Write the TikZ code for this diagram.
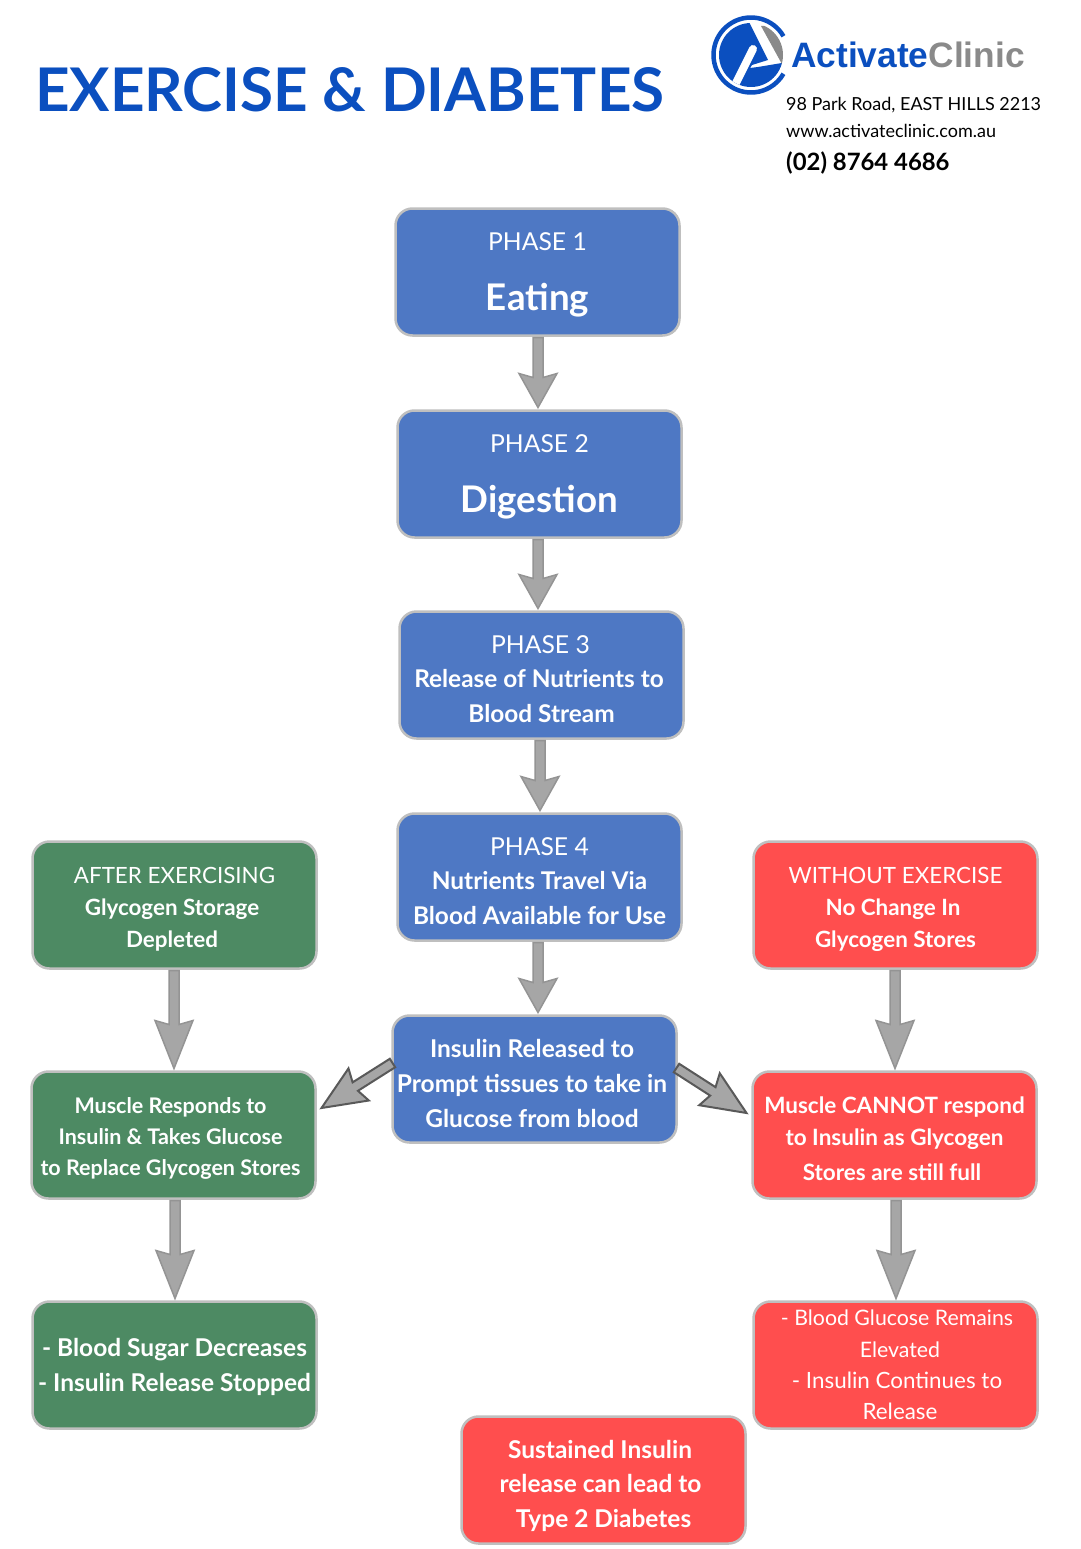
\documentclass[tikz,border=0pt]{standalone}
\usepackage{fontspec}
\usetikzlibrary{calc}
\setmainfont{Lato}
\newfontfamily\logofont{Liberation Sans}
\definecolor{boxblue}{HTML}{4E78C4}
\definecolor{boxgreen}{HTML}{4D8A63}
\definecolor{boxred}{HTML}{FF4E4E}
\definecolor{boxline}{HTML}{BFBFBF}
\definecolor{titleblue}{HTML}{0B4FBF}
\definecolor{logogrey}{HTML}{8A8A8A}
\definecolor{arrowfill}{HTML}{A6A6A6}
\definecolor{arrowline}{HTML}{949494}
\newcommand{\bigline}[1]{{\fontsize{36.7}{36.7}\selectfont\bfseries #1}}
\newcommand{\tol}[1]{\rule{#1}{0pt}}
\newcommand{\topgap}[1]{\rule{0pt}{#1}}
\begin{document}
\begin{tikzpicture}[x=1pt,y=-1pt,
    box/.style={rectangle, draw=boxline, line width=2.5pt, rounded corners=17pt, text=white, align=center,
        minimum width=284pt, minimum height=127pt, inner sep=0pt, outer sep=0pt},
    bluebox/.style={box, fill=boxblue},
    greenbox/.style={box, fill=boxgreen},
    redbox/.style={box, fill=boxred},
    fs/.style 2 args={font=\fontsize{#1}{#2}\selectfont},
    barrow/.style={fill=arrowfill, draw=arrowline, line width=1.5pt, miter limit=8,
        to path={
            ($(\tikztostart)!5pt!90:(\tikztotarget)$) --
            ($(\tikztotarget)!#1-4pt!(\tikztostart)!5pt!-90:(\tikztostart)$) --
            ($(\tikztotarget)!#1!(\tikztostart)!19pt!-90:(\tikztostart)$) --
            (\tikztotarget) --
            ($(\tikztotarget)!#1!(\tikztostart)!19pt!90:(\tikztostart)$) --
            ($(\tikztotarget)!#1-4pt!(\tikztostart)!5pt!90:(\tikztostart)$) --
            ($(\tikztostart)!5pt!-90:(\tikztotarget)$) -- cycle}},
    barrow/.default=34pt,
    slantarrow/.style={barrow=#1, draw=black!65, line width=2pt}
]
\useasboundingbox (0,0) rectangle (1080,1549);

% header
\node[anchor=base west, inner sep=0pt, text=titleblue, font=\fontsize{60.2}{60}\selectfont\bfseries] (title) at (35,112) {EXERCISE \& DIABETES};
\node[anchor=base west, inner sep=0pt, fs={18}{20}] (addr) at (786,111) {98 Park Road, EAST HILLS 2213};
\node[anchor=base west, inner sep=0pt, fs={18}{20}] (web) at (786,138) {www.activateclinic.com.au};
\node[anchor=base west, inner sep=0pt, font=\fontsize{23.9}{26}\selectfont\bfseries] (phone) at (786,170.5) {(02) 8764 4686};

% logo
\draw[titleblue, line width=4.5pt] (751,55) +(30:37.5pt) arc[start angle=30, delta angle=300, radius=37.5pt];
\begin{scope}
    \clip (751,55) circle[radius=32pt];
    \fill[titleblue] (749,22) -- (768,60) -- (752,65) -- (750,68) -- (758,67) -- (782,63) -- (775,95) -- (710,95) -- (710,22) -- cycle;
    \draw[white, line width=8pt, line cap=round] (753,49) -- (735,85);
    \fill[logogrey] (761,26) -- (783,66) -- (790,26) -- cycle;
\end{scope}
\node[anchor=base west, inner sep=0pt, font=\logofont\fontsize{35.3}{35}\selectfont\bfseries] (brand) at (791,68) {\textcolor{titleblue}{Activate}\textcolor{logogrey}{Clinic}};

% centre column
\node[bluebox, fs={24.7}{34}] (p1) at (537.5,272) {\topgap{24pt}PHASE 1\\[26pt]\bigline{Eating}};
\node[bluebox, fs={24.7}{34}] (p2) at (539.5,474) {\topgap{24pt}PHASE 2\\[26pt]\bigline{Digestion}};
\node[bluebox, fs={24.7}{34.5}] (p3) at (541.5,675) {\topgap{26pt}PHASE 3\tol{2pt}\\{\fontsize{24.4}{34.5}\selectfont\textbf{Release of Nutrients to}\tol{5pt}}\\{\fontsize{24.4}{34.5}\selectfont\textbf{Blood Stream}}};
\node[bluebox, fs={24.7}{34.5}] (p4) at (539.5,877) {\topgap{26pt}PHASE 4\\{\fontsize{24.4}{34.5}\selectfont\textbf{Nutrients Travel Via}}\\{\fontsize{24.4}{34.5}\selectfont\textbf{Blood Available for Use}}};
\node[bluebox, font=\fontsize{24.5}{35}\selectfont\bfseries] (ins) at (534.5,1079) {\topgap{28pt}Insulin Released to\tol{5pt}\\Prompt tissues to take in\tol{5pt}\\Glucose from blood\tol{5pt}};
\node[redbox, font=\fontsize{24.5}{34.5}\selectfont\bfseries] (sus) at (603.5,1480) {\topgap{30pt}Sustained Insulin\tol{7pt}\\release can lead to\tol{6pt}\\Type 2 Diabetes};

% left column
\node[greenbox, fs={22.4}{32}] (ae) at (174.5,905) {\topgap{24pt}AFTER EXERCISING\\\textbf{Glycogen Storage}\tol{5pt}\\\textbf{Depleted}\tol{5pt}};
\node[greenbox, font=\fontsize{21.5}{31}\selectfont\bfseries] (mr) at (173.5,1135) {\topgap{22.5pt}Muscle Responds to\tol{6pt}\\Insulin \& Takes Glucose\tol{6pt}\\to Replace Glycogen Stores\tol{6pt}};
\node[greenbox, font=\fontsize{24.5}{34.5}\selectfont\bfseries] (bs) at (174.5,1365) {\topgap{22pt}- Blood Sugar Decreases\\- Insulin Release Stopped};

% right column
\node[redbox, fs={22.4}{32}] (wo) at (895.5,905) {\topgap{26pt}WITHOUT EXERCISE\\\textbf{No Change In}\tol{5pt}\\\textbf{Glycogen Stores}};
\node[redbox, font=\fontsize{22.5}{32}\selectfont\bfseries] (mc) at (894.5,1135) {\topgap{24.7pt}Muscle CANNOT respond\\to Insulin as Glycogen\\[3pt]Stores are still full\tol{5pt}};
\node[redbox, fs={21.3}{31.3}] (bg) at (895.5,1365) {\tol{3pt}- Blood Glucose Remains\\\tol{9pt}Elevated\\{\fontsize{22.4}{31.3}\selectfont\tol{3pt}- Insulin Continues to}\\{\fontsize{22.4}{31.3}\selectfont\tol{9pt}Release}};

% connectors
\draw[barrow] ([xshift=.5pt,yshift=-2pt]p1.south) to ([xshift=-1.5pt,yshift=3pt]p2.north);
\draw[barrow] ([xshift=-1.5pt,yshift=-2pt]p2.south) to ([xshift=-3.5pt,yshift=3pt]p3.north);
\draw[barrow] ([xshift=-1.5pt,yshift=-2pt]p3.south) to ([xshift=.5pt,yshift=3pt]p4.north);
\draw[barrow] ([xshift=-1.5pt,yshift=-2pt]p4.south) to ([xshift=3.5pt,yshift=3pt]ins.north);
\draw[barrow=48pt] ([xshift=-.5pt,yshift=-2pt]ae.south) to ([xshift=.5pt,yshift=3pt]mr.north);
\draw[barrow=48pt] ([xshift=-.5pt,yshift=-2pt]wo.south) to ([xshift=.5pt,yshift=3pt]mc.north);
\draw[barrow=48pt] ([xshift=1.5pt,yshift=-2pt]mr.south) to ([xshift=.5pt,yshift=3pt]bs.north);
\draw[barrow=48pt] ([xshift=1.5pt,yshift=-2pt]mc.south) to ([xshift=.5pt,yshift=3pt]bg.north);
\draw[slantarrow=44pt] ([yshift=16pt]ins.west) to ([xshift=6pt,yshift=27pt]mr.east);
\draw[slantarrow=44pt] ([yshift=11pt]ins.east) to ([xshift=-6pt,yshift=22pt]mc.west);
\end{tikzpicture}
\end{document}
